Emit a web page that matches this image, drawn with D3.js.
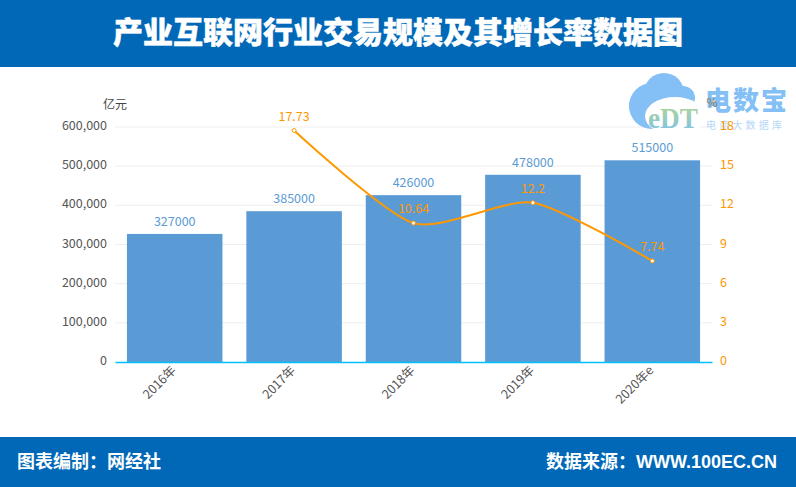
<!DOCTYPE html>
<html>
<head>
<meta charset="utf-8">
<script src="https://cdn.jsdelivr.net/npm/d3@7"></script>
<style>
  html, body { margin: 0; padding: 0; background: #fff; }
  svg { display: block; }
  text { font-family: "Noto Sans CJK SC", "Noto Sans", sans-serif; }
  .foot { font-family: "Liberation Sans", "Noto Sans CJK SC", sans-serif; }
</style>
</head>
<body>
<div id="chart"></div>
<script>
// data
const years = ["2016年", "2017年", "2018年", "2019年", "2020年e"];
const scaleValues = [327000, 385000, 426000, 478000, 515000];
const rateYears = ["2017年", "2018年", "2019年", "2020年e"];
const rateValues = [17.73, 10.64, 12.2, 7.74];
const leftTicks = [0, 100000, 200000, 300000, 400000, 500000, 600000];
const rightTicks = [0, 3, 6, 9, 12, 15, 18];

const width = 796, height = 487;
const blue = "#0068b7", barColor = "#5b9bd5", orange = "#ff9800";

const svg = d3.select("#chart").append("svg")
  .attr("width", width)
  .attr("height", height);

// header and footer bands
svg.append("rect").attr("width", width).attr("height", 67).attr("fill", blue);
svg.append("rect").attr("y", 437).attr("width", width).attr("height", 50).attr("fill", blue);

svg.append("text")
  .text("产业互联网行业交易规模及其增长率数据图")
  .attr("x", 398).attr("y", 43)
  .attr("text-anchor", "middle")
  .attr("fill", "#fff")
  .attr("stroke", "#fff")
  .attr("stroke-width", 0.5)
  .attr("font-size", 30)
  .attr("font-weight", 900);

svg.append("text")
  .attr("class", "foot")
  .text("图表编制：网经社")
  .attr("x", 17).attr("y", 468)
  .attr("fill", "#fff").attr("font-size", 18).attr("font-weight", 700);

svg.append("text")
  .attr("class", "foot")
  .text("数据来源：WWW.100EC.CN")
  .attr("x", 777).attr("y", 468)
  .attr("text-anchor", "end")
  .attr("fill", "#fff").attr("font-size", 18).attr("font-weight", 700);

// scales
const x = d3.scaleBand().domain(years).range([115, 712]).paddingInner(0.2).paddingOuter(0.1);
const yLeft = d3.scaleLinear().domain([0, 600000]).range([362, 127]);
const yRight = d3.scaleLinear().domain([0, 18]).range([362, 127]);

// grid
svg.append("g").selectAll("line")
  .data(leftTicks.slice(1))
  .join("line")
  .attr("x1", 115).attr("x2", 712)
  .attr("y1", d => yLeft(d)).attr("y2", d => yLeft(d))
  .attr("stroke", "#eeeeee");

// watermark logo, sits behind the marks
const grad = svg.append("defs").append("linearGradient")
  .attr("id", "edt").attr("x1", 0).attr("y1", 0).attr("x2", 0).attr("y2", 1);
grad.append("stop").attr("offset", "0%").attr("stop-color", "#b5d98a");
grad.append("stop").attr("offset", "100%").attr("stop-color", "#7cc0ee");

const logo = svg.append("g");
logo.selectAll("circle")
  .data([[652, 106, 23], [664, 93, 20], [683, 98, 12], [640, 106, 11]])
  .join("circle")
  .attr("cx", d => d[0]).attr("cy", d => d[1]).attr("r", d => d[2])
  .attr("fill", "#84bff5");
logo.append("ellipse")
  .attr("cx", 675).attr("cy", 116).attr("rx", 30).attr("ry", 19)
  .attr("fill", "#fff");
logo.append("text").text("eDT")
  .attr("x", 648).attr("y", 128)
  .attr("fill", "url(#edt)")
  .attr("font-size", 30)
  .attr("textLength", 50)
  .attr("lengthAdjust", "spacingAndGlyphs")
  .attr("style", "font-family:'Liberation Serif',serif;font-weight:700");
logo.append("text").text("电数宝")
  .attr("x", 705).attr("y", 110)
  .attr("fill", "#84bff5").attr("font-size", 26).attr("font-weight", 900)
  .attr("letter-spacing", 2);
logo.append("text").text("电商大数据库")
  .attr("x", 706).attr("y", 129)
  .attr("fill", "#b5d8f7").attr("font-size", 10)
  .attr("letter-spacing", 3.2);

// bars
svg.append("g").selectAll("rect")
  .data(scaleValues)
  .join("rect")
  .attr("x", (d, i) => x(years[i]))
  .attr("y", d => yLeft(d))
  .attr("width", x.bandwidth())
  .attr("height", d => yLeft(0) - yLeft(d))
  .attr("fill", barColor);

svg.append("g").selectAll("text")
  .data(scaleValues)
  .join("text")
  .text(d => d)
  .attr("x", (d, i) => x(years[i]) + x.bandwidth() / 2)
  .attr("y", d => yLeft(d) - 8)
  .attr("text-anchor", "middle")
  .attr("fill", barColor)
  .attr("font-size", 12.5);

// axes
const leftAxis = svg.append("g")
  .attr("transform", "translate(115,0)")
  .call(d3.axisLeft(yLeft).tickValues(leftTicks).tickFormat(d3.format(",")).tickSize(0).tickPadding(8));
leftAxis.select(".domain").remove();
leftAxis.selectAll("text").attr("fill", "#555").attr("font-size", 12.5).attr("dy", "0.2em");

const rightAxis = svg.append("g")
  .attr("transform", "translate(712,0)")
  .call(d3.axisRight(yRight).tickValues(rightTicks).tickSize(0).tickPadding(8));
rightAxis.select(".domain").remove();
rightAxis.selectAll("text").attr("fill", orange).attr("font-size", 12.5).attr("dy", "0.2em");

const bottomAxis = svg.append("g")
  .attr("transform", "translate(0,362)")
  .call(d3.axisBottom(x).tickSize(0));
bottomAxis.select(".domain").attr("stroke", "#00c0ff").attr("stroke-width", 1.5);
bottomAxis.selectAll("text")
  .attr("fill", "#555")
  .attr("font-size", 12.5)
  .attr("text-anchor", "end")
  .attr("dx", -5).attr("dy", 5)
  .attr("transform", "rotate(-45)");

svg.append("text").text("亿元")
  .attr("x", 115).attr("y", 109)
  .attr("text-anchor", "middle")
  .attr("fill", "#444").attr("font-size", 12);

svg.append("text").text("%")
  .attr("x", 712).attr("y", 107)
  .attr("text-anchor", "middle")
  .attr("fill", "#8a7a5a").attr("font-size", 12);

// growth rate line
const cx = (d, i) => x(rateYears[i]) + x.bandwidth() / 2;
const line = d3.line()
  .x(cx)
  .y(d => yRight(d))
  .curve(d3.curveCardinal.tension(0.3));

svg.append("path")
  .attr("d", line(rateValues))
  .attr("fill", "none")
  .attr("stroke", orange)
  .attr("stroke-width", 2);

svg.append("g").selectAll("circle")
  .data(rateValues)
  .join("circle")
  .attr("cx", cx)
  .attr("cy", d => yRight(d))
  .attr("r", 2)
  .attr("fill", "#fff")
  .attr("stroke", orange);

svg.append("g").selectAll("text")
  .data(rateValues)
  .join("text")
  .text(d => d)
  .attr("x", cx)
  .attr("y", d => yRight(d) - 10)
  .attr("text-anchor", "middle")
  .attr("fill", orange)
  .attr("font-size", 12.5);
</script>
</body>
</html>
